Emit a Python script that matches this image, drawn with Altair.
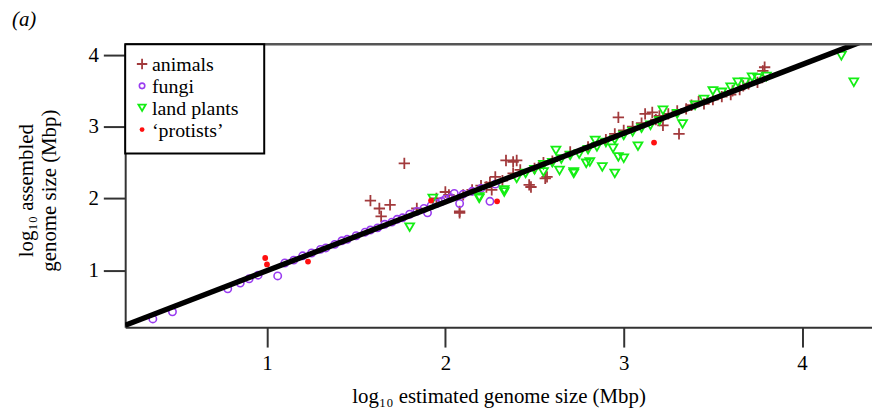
import altair as alt
import pandas as pd

# ---- data ----
animals_x = [1.58, 1.63, 1.69, 1.64, 1.77, 1.84, 1.95, 2.0, 2.02, 2.08, 2.08, 2.1, 2.15, 2.2, 2.23,
             2.25, 2.26, 2.28, 2.32, 2.34, 2.38, 2.38, 2.4, 2.42, 2.47, 2.48, 2.5, 2.55, 2.56, 2.57,
             2.6, 2.7, 2.8, 2.9, 2.95, 2.97, 3.0, 3.05, 3.1, 3.12, 3.16, 3.18, 3.2, 3.22, 3.25,
             3.3, 3.31, 3.35, 3.38, 3.42, 3.45, 3.5, 3.55, 3.6, 3.61, 3.65, 3.67, 3.7, 3.75, 3.78, 3.79]
animals_y = [1.97, 1.86, 1.91, 1.75, 2.49, 1.86, 2.0, 2.09, 2.05, 1.80, 1.82, 2.05, 2.12, 2.18, 2.16,
             2.22, 2.12, 2.3, 2.25, 2.53, 2.35, 2.51, 2.53, 2.4, 2.19, 2.16, 2.42, 2.5, 2.28, 2.30,
             2.52, 2.65, 2.72, 2.82, 2.9, 3.13, 2.95, 3.0, 3.05, 3.18, 3.2, 3.1, 3.15, 3.02, 3.18,
             3.22, 2.90, 3.25, 3.3, 3.35, 3.32, 3.38, 3.42, 3.45, 3.50, 3.52, 3.57, 3.6, 3.62, 3.78, 3.83]

fungi_x = [0.36, 0.47, 0.78, 0.85, 0.9, 0.95, 1.06, 1.1, 1.15, 1.2, 1.25, 1.3, 1.33, 1.38, 1.42,
           1.45, 1.5, 1.55, 1.58, 1.62, 1.66, 1.7, 1.73, 1.76, 1.8, 1.84, 1.88, 1.9, 1.92, 1.95,
           1.98, 2.0, 2.03, 2.05, 2.08, 2.1, 2.15, 2.2, 2.25, 2.28]
fungi_y = [0.32, 0.42, 0.74, 0.82, 0.88, 0.93, 0.92, 1.1, 1.14, 1.2, 1.24, 1.29, 1.31, 1.36, 1.41,
           1.43, 1.48, 1.53, 1.56, 1.59, 1.64, 1.67, 1.71, 1.73, 1.78, 1.82, 1.86, 1.80, 1.9, 1.93,
           1.96, 1.99, 2.01, 2.07, 1.93, 2.06, 2.1, 2.14, 1.96, 2.2]

plants_x = [1.80, 1.93, 2.19, 2.19, 2.33, 2.33, 2.4, 2.45, 2.5, 2.55, 2.55, 2.6, 2.62, 2.64, 2.65,
            2.7, 2.72, 2.72, 2.75, 2.79, 2.8, 2.81, 2.84, 2.85, 2.88, 2.9, 2.94, 2.95, 2.95, 2.97,
            3.0, 3.0, 3.05, 3.08, 3.1, 3.15, 3.2, 3.22, 3.3, 3.33, 3.4, 3.45, 3.5, 3.55, 3.6,
            3.64, 3.68, 3.72, 3.75, 3.8, 4.22, 4.29]
plants_y = [1.60, 2.0, 2.0, 2.02, 2.09, 2.12, 2.28, 2.35, 2.4, 2.37, 2.47, 2.5, 2.67, 2.39, 2.55,
            2.6, 2.37, 2.35, 2.62, 2.49, 2.68, 2.51, 2.81, 2.72, 2.44, 2.78, 2.70, 2.35, 2.82, 2.58,
            2.56, 2.88, 2.93, 2.73, 2.98, 3.02, 3.08, 3.23, 3.18, 3.04, 3.3, 3.38, 3.50, 3.48, 3.55,
            3.62, 3.62, 3.69, 3.68, 3.7, 3.99, 3.62]

protists_x = [0.99, 1.0, 1.23, 1.92, 2.29, 3.17]
protists_y = [1.17, 1.08, 1.12, 1.97, 1.96, 2.78]

groups = ["animals", "fungi", "land plants", "\u2018protists\u2019"]
group_colors = ["#A23A3C", "#9A3CF0", "#14EE14", "#FF1010"]

fit_intercept = 0.035
fit_slope = 0.958
fit_x = [0.205, 4.392]

x_ticks = [1, 2, 3, 4]
y_ticks = [1, 2, 3, 4]

# ---- styles ----
plus_path = "M-1,0L1,0M0,-1L0,1"
g_shapes = [plus_path, "circle", "triangle-down", "circle"]
g_sizes = [130, 55, 80, 34]
g_leg_sizes = [110, 30, 55, 24]
g_filled = [False, False, False, True]
g_sw = [1.8, 1.6, 1.8, 1.5]

FONT = "Times New Roman, Liberation Serif, serif"
W, H = 752, 285
xdom = [0.205, 4.392]
ydom = [0.205, 4.152]

xscale = alt.Scale(domain=xdom, nice=False, zero=False)
yscale = alt.Scale(domain=ydom, nice=False, zero=False)

xaxis = alt.Axis(values=x_ticks, title="log\u2081\u2080 estimated genome size (Mbp)",
                 tickSize=20, labelPadding=6, titlePadding=12, format="d")
yaxis = alt.Axis(values=y_ticks, title=["log\u2081\u2080 assembled", "genome size (Mbp)"],
                 tickSize=22, labelPadding=5, format="d", titleAngle=-90,
                 titleX=-99, titleY=147, titleAlign="center", titleBaseline="middle",
                 titleLineHeight=23)


def xy():
    return dict(x=alt.X("x:Q", scale=xscale, axis=xaxis),
                y=alt.Y("y:Q", scale=yscale, axis=yaxis))


layers = []
for i, (g, xs, ys) in enumerate(zip(groups, [animals_x, fungi_x, plants_x, protists_x],
                                     [animals_y, fungi_y, plants_y, protists_y])):
    gdf = pd.DataFrame({"x": xs, "y": ys})
    mk = dict(shape=g_shapes[i], size=g_sizes[i], strokeWidth=g_sw[i], opacity=1,
              filled=g_filled[i], color=group_colors[i])
    layers.append(alt.Chart(gdf).mark_point(**mk).encode(**xy()))

line_df = pd.DataFrame({"x": fit_x, "y": [fit_intercept + fit_slope * v for v in fit_x]})
line = alt.Chart(line_df).mark_line(color="black", strokeWidth=5.5, clip=True).encode(**xy())
layers.append(line)

top_frame = alt.Chart(pd.DataFrame({"v": [0]})).mark_rule(color="#555", strokeWidth=2.5).encode(
    x=alt.value(0), x2=alt.value(W), y=alt.value(0))
layers.append(top_frame)

label = alt.Chart(pd.DataFrame({"t": ["(a)"]})).mark_text(
    font=FONT, fontSize=21, fontStyle="italic", align="left", baseline="middle", color="black"
).encode(text="t:N", x=alt.value(-114), y=alt.value(-24))
layers.append(label)

# ---- legend (drawn inside the plot's top-left corner) ----
legend_box = alt.Chart(pd.DataFrame({"v": [0]})).mark_rect(
    fill="white", stroke="black", strokeWidth=2
).encode(x=alt.value(0), x2=alt.value(140), y=alt.value(0), y2=alt.value(110))
layers.append(legend_box)

for i, g in enumerate(groups):
    gdf = pd.DataFrame({"group": [g]})
    layers.append(
        alt.Chart(gdf).mark_point(shape=g_shapes[i], size=g_leg_sizes[i], strokeWidth=g_sw[i],
                                  opacity=1, filled=g_filled[i], color=group_colors[i]).encode(
            x=alt.value(17), y=alt.value(20 + 22 * i)))
    layers.append(
        alt.Chart(gdf).mark_text(font=FONT, fontSize=20, align="left", baseline="middle",
                                 color="black").encode(
            text="group:N", x=alt.value(27), y=alt.value(21 + 22 * i)))

chart = alt.layer(*layers).properties(
    width=W, height=H,
    autosize=alt.AutoSizeParams(type="none"),
    padding={"left": 118, "top": 35, "right": 0, "bottom": 85},
).configure_view(stroke=None).configure_axis(
    grid=False, domainColor="#333", domainWidth=2, tickColor="#333", tickWidth=2,
    labelFont=FONT, labelFontSize=21, labelColor="black",
    titleFont=FONT, titleFontSize=21, titleFontWeight="normal", titleColor="black",
)

chart.save("out.html", embed_options={"renderer": "svg", "actions": False})
